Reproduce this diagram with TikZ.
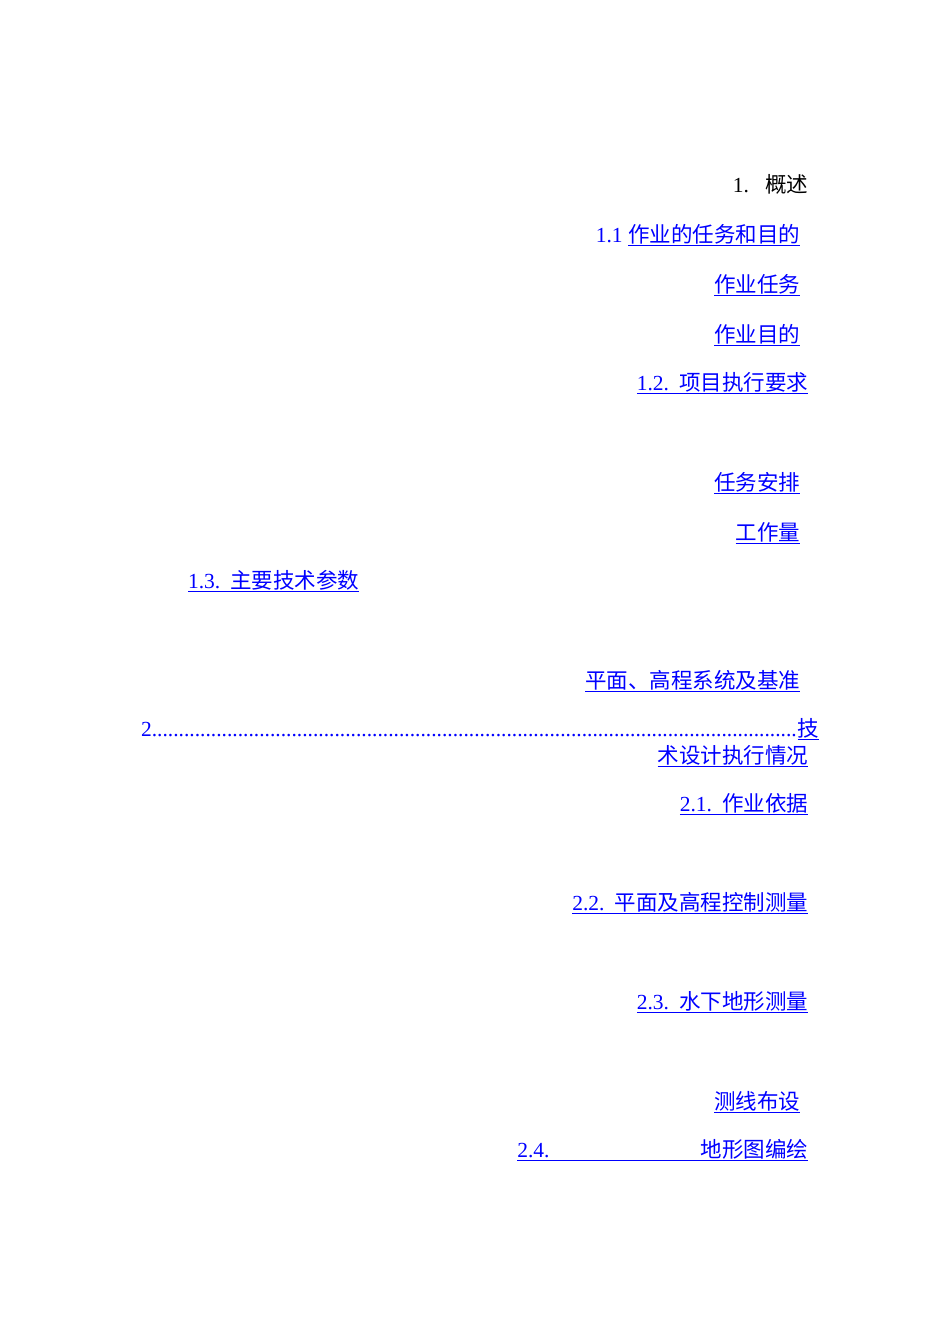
\documentclass[tikz,border=0pt]{standalone}
\usepackage{fontspec}
\setmainfont{Liberation Serif}
\newfontfamily\cjk{Noto Sans CJK SC}
\begin{document}
\begin{tikzpicture}[x=1pt,y=1pt,
  every node/.style={inner sep=0pt,outer sep=0pt,font=\fontsize{21.5}{24}\selectfont},
  toc/.style={anchor=base east,text=blue},
  tocw/.style={anchor=base west,text=blue}]
\useasboundingbox (0,0) rectangle (950,-1344);
\node[anchor=base east] (a1) at (808,-192) {1.\hspace{16pt}{\cjk 概述}};
\node[toc] (a11) at (800,-242) {1.1 \underline{\cjk 作业的任务和目的}};
\node[toc] (a111) at (800,-292) {\underline{\cjk 作业任务}};
\node[toc] (a112) at (800,-342) {\underline{\cjk 作业目的}};
\node[toc] (a12) at (808,-390) {\underline{1.2.\hspace{10pt}{\cjk 项目执行要求}}};
\node[toc] (a121) at (800,-490) {\underline{\cjk 任务安排}};
\node[toc] (a122) at (800,-540) {\underline{\cjk 工作量}};
\node[tocw] (a13) at (188,-588) {\underline{1.3.\hspace{10pt}{\cjk 主要技术参数}}};
\node[toc] (a131) at (800,-688) {\underline{\cjk 平面、高程系统及基准}};
\node[tocw] (b2) at (141,-736) {\makebox[678pt][s]{2\leaders\hbox{.}\hfill\underline{\cjk 技}}};
\node[toc] (b2b) at (808,-763) {\underline{\cjk 术设计执行情况}};
\node[toc] (b21) at (808,-811) {\underline{2.1.\hspace{10pt}{\cjk 作业依据}}};
\node[toc] (b22) at (808,-910) {\underline{2.2.\hspace{10pt}{\cjk 平面及高程控制测量}}};
\node[toc] (b23) at (808,-1009) {\underline{2.3.\hspace{10pt}{\cjk 水下地形测量}}};
\node[toc] (b231) at (800,-1109) {\underline{\cjk 测线布设}};
\node[toc] (b24) at (808,-1157) {\underline{2.4.\hspace{151pt}{\cjk 地形图编绘}}};
\end{tikzpicture}
\end{document}
